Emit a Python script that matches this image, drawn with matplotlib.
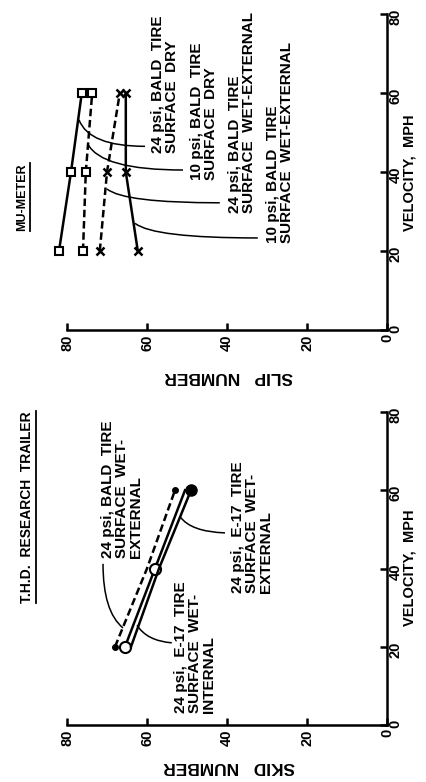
import matplotlib
matplotlib.use("Agg")
import matplotlib.pyplot as plt
from matplotlib.path import Path
from matplotlib.patches import PathPatch
from matplotlib.lines import Line2D

plt.rcParams['font.family'] = ['Liberation Sans', 'DejaVu Sans']
plt.rcParams['font.weight'] = 'bold'

# MU-METER: slip number at each test velocity
mu_velocity = [20, 40, 60]
mu_24psi_dry = [82, 79, 76.3]
mu_10psi_dry = [76, 75.3, 73.7]
mu_24psi_wet = [71.8, 70, 66.8]
mu_10psi_wet = [62.3, 65.3, 65.3]

# T.H.D. research trailer: skid number at each test velocity
thd_velocity = [20, 40, 60]
thd_bald_wet_ext = [68, 60, 53]
thd_e17_wet_int = [65.5, 58, 50.5]
thd_e17_wet_ext = [64, 57, 49]

ticks = [0, 20, 40, 60, 80]

W, H = 427, 782
fig = plt.figure(figsize=(W / 100, H / 100), dpi=100)
ax_mu = fig.add_axes([67 / W, 1 - 330 / H, 320 / W, 316 / H])
ax_thd = fig.add_axes([67 / W, 1 - 725 / H, 320 / W, 313 / H])


def style_axes(ax):
    ax.set_xlim(80, 0)
    ax.set_ylim(0, 80)
    ax.set_xticks(ticks)
    ax.set_yticks(ticks)
    ax.spines['top'].set_visible(False)
    ax.spines['left'].set_visible(False)
    ax.spines['bottom'].set_linewidth(1.8)
    ax.spines['right'].set_linewidth(1.8)
    ax.yaxis.tick_right()
    ax.tick_params(direction='in', length=5, width=1.8, labelsize=10.5)
    ax.tick_params(axis='x', labelrotation=90, pad=3)
    ax.tick_params(axis='y', labelrotation=90, pad=1)
    ax.patch.set_visible(False)


def leader(ax, p0, p1, ctrl):
    path = Path([p0, ctrl, p1], [Path.MOVETO, Path.CURVE3, Path.CURVE3])
    ax.add_patch(PathPatch(path, fill=False, lw=1.1, color='black'))


def label(ax, s, v, txt):
    ax.text(s, v, txt, rotation=90, rotation_mode='anchor', ha='left', va='top',
            fontsize=11, linespacing=1.0, multialignment='left')


style_axes(ax_mu)
style_axes(ax_thd)

line_kw = dict(color='black', lw=1.8, clip_on=False)

# MU-METER curves
ax_mu.plot(mu_24psi_dry, mu_velocity, '-', marker='s', ms=6, mfc='white', mew=1.5, **line_kw)
ax_mu.plot(mu_10psi_dry, mu_velocity, '--', dashes=(3, 1.5), marker='s', ms=6, mfc='white', mew=1.5, **line_kw)
ax_mu.plot(mu_24psi_wet, mu_velocity, '--', dashes=(3, 1.5), marker='x', ms=6, mew=1.8, **line_kw)
ax_mu.plot(mu_10psi_wet, mu_velocity, '-', marker='x', ms=6, mew=1.8, **line_kw)

label(ax_mu, 59, 44.8, '24 psi, BALD  TIRE\nSURFACE  DRY')
label(ax_mu, 49.3, 38, '10 psi, BALD  TIRE\nSURFACE  DRY')
label(ax_mu, 39.8, 29.6, '24 psi, BALD  TIRE\nSURFACE  WET-EXTERNAL')
label(ax_mu, 30.3, 22, '10 psi, BALD  TIRE\nSURFACE  WET-EXTERNAL')

leader(ax_mu, (77, 53.2), (60.5, 46.5), (74.5, 46.5))
leader(ax_mu, (74.8, 47.1), (51, 40.5), (71.5, 40.5))
leader(ax_mu, (70, 35.7), (41.8, 32.2), (65.8, 32.2))
leader(ax_mu, (63, 27), (32.3, 23.3), (58.4, 23.3))

# T.H.D. curves
ax_thd.plot(thd_bald_wet_ext, thd_velocity, '--', dashes=(3, 1.5), marker='o', ms=4,
            markevery=[0, 2], **line_kw)
ax_thd.plot(thd_e17_wet_int, thd_velocity, '-', marker='o', ms=8, mfc='white', mew=1.5,
            markevery=[0, 1], **line_kw)
ax_thd.plot(thd_e17_wet_ext, thd_velocity, '-', marker='o', ms=8, markevery=[2], **line_kw)

label(ax_thd, 71.5, 42.7, '24 psi, BALD  TIRE\nSURFACE  WET-\nEXTERNAL')
label(ax_thd, 53.3, 3.1, '24 psi,  E-17  TIRE\nSURFACE  WET-\nINTERNAL')
label(ax_thd, 39, 33.8, '24 psi,  E-17  TIRE\nSURFACE  WET-\nEXTERNAL')

leader(ax_thd, (71, 41.2), (66, 24.8), (71, 29))
leader(ax_thd, (62.5, 25.5), (53.8, 21), (60, 21.5))
leader(ax_thd, (51.7, 53.2), (40.5, 49.1), (49, 49.4))

# axis titles and panel titles
fig.text(229 / W, 1 - 377 / H, 'SLIP   NUMBER', rotation=180, ha='center', va='center', fontsize=12.5)
fig.text(229 / W, 1 - 767 / H, 'SKID   NUMBER', rotation=180, ha='center', va='center', fontsize=12.5)
fig.text(403 / W, 1 - 173 / H, 'VELOCITY,  MPH', rotation=90, ha='left', va='center', fontsize=10.5)
fig.text(403 / W, 1 - 568 / H, 'VELOCITY,  MPH', rotation=90, ha='left', va='center', fontsize=10.5)

titles = [
    fig.text(22 / W, 1 - 197 / H, 'MU-METER', rotation=90, ha='center', va='center', fontsize=9),
    fig.text(27 / W, 1 - 507 / H, 'T.H.D.  RESEARCH  TRAILER', rotation=90, ha='center', va='center', fontsize=10),
]
fig.canvas.draw()
for t in titles:
    bb = t.get_window_extent()
    x = bb.x1 + 2
    fig.add_artist(Line2D([x / W, x / W], [bb.y0 / H, bb.y1 / H], color='black', lw=1.3,
                          transform=fig.transFigure))

fig.savefig('out.png', dpi=100)
